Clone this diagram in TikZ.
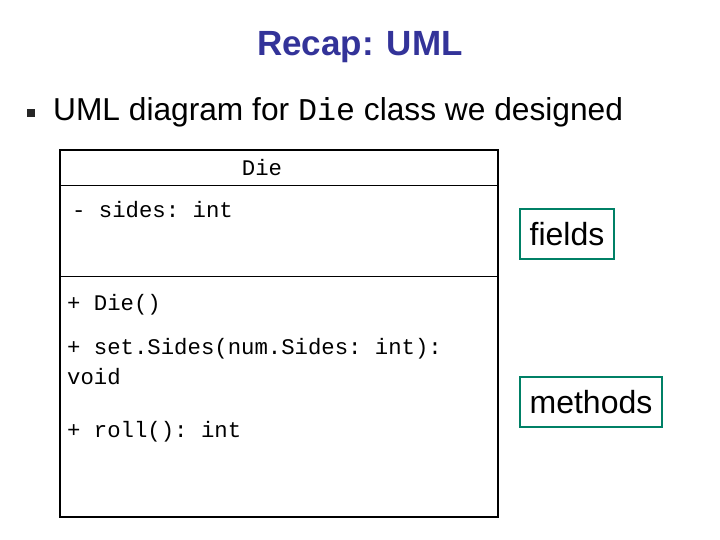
\documentclass[tikz,border=0pt]{standalone}
\usepackage{fontspec}
\setmainfont{Liberation Sans}
\setmonofont{Liberation Mono}
\definecolor{titleblue}{HTML}{333399}
\definecolor{boxgreen}{HTML}{008066}
\begin{document}
\begin{tikzpicture}[x=1pt,y=-1pt,
  mono/.style={anchor=west,inner sep=0pt,font=\fontsize{22.3}{24}\selectfont\ttfamily},
  tag/.style={draw=boxgreen,line width=2.5pt,inner sep=0pt,font=\fontsize{32}{34}\selectfont}]
\useasboundingbox (0,0) rectangle (720,540);
\node[text=titleblue,font=\fontsize{35}{37}\selectfont\bfseries] (title) at (360,47) {Recap: UML};
\node[fill=black!85,minimum size=8pt,inner sep=0pt] (bul) at (31,113) {};
\node[anchor=west,inner sep=0pt,font=\fontsize{31.7}{33}\selectfont] (head) at (53,112) {UML diagram for {\ttfamily Die} class we designed};
\draw[line width=2pt] (60,150) rectangle (498,517);
\draw[line width=1pt] (60,186) -- (498,186);
\draw[line width=1pt] (60,276) -- (498,276);
\node[mono,anchor=center] (die) at (262,168) {Die};
\node[mono] (f1) at (72,210) {- sides: int};
\node[mono] (m1) at (67,305) {+ Die()};
\node[mono] (m2) at (67,349) {+ set.Sides(num.Sides: int):};
\node[mono] (m3) at (67,377) {void};
\node[mono] (m4) at (67,432) {+ roll(): int};
\node[tag,minimum width=94pt,minimum height=50pt] (fields) at (567,234) {fields};
\node[tag,minimum width=142pt,minimum height=50pt] (methods) at (591,402) {methods};
\end{tikzpicture}
\end{document}
